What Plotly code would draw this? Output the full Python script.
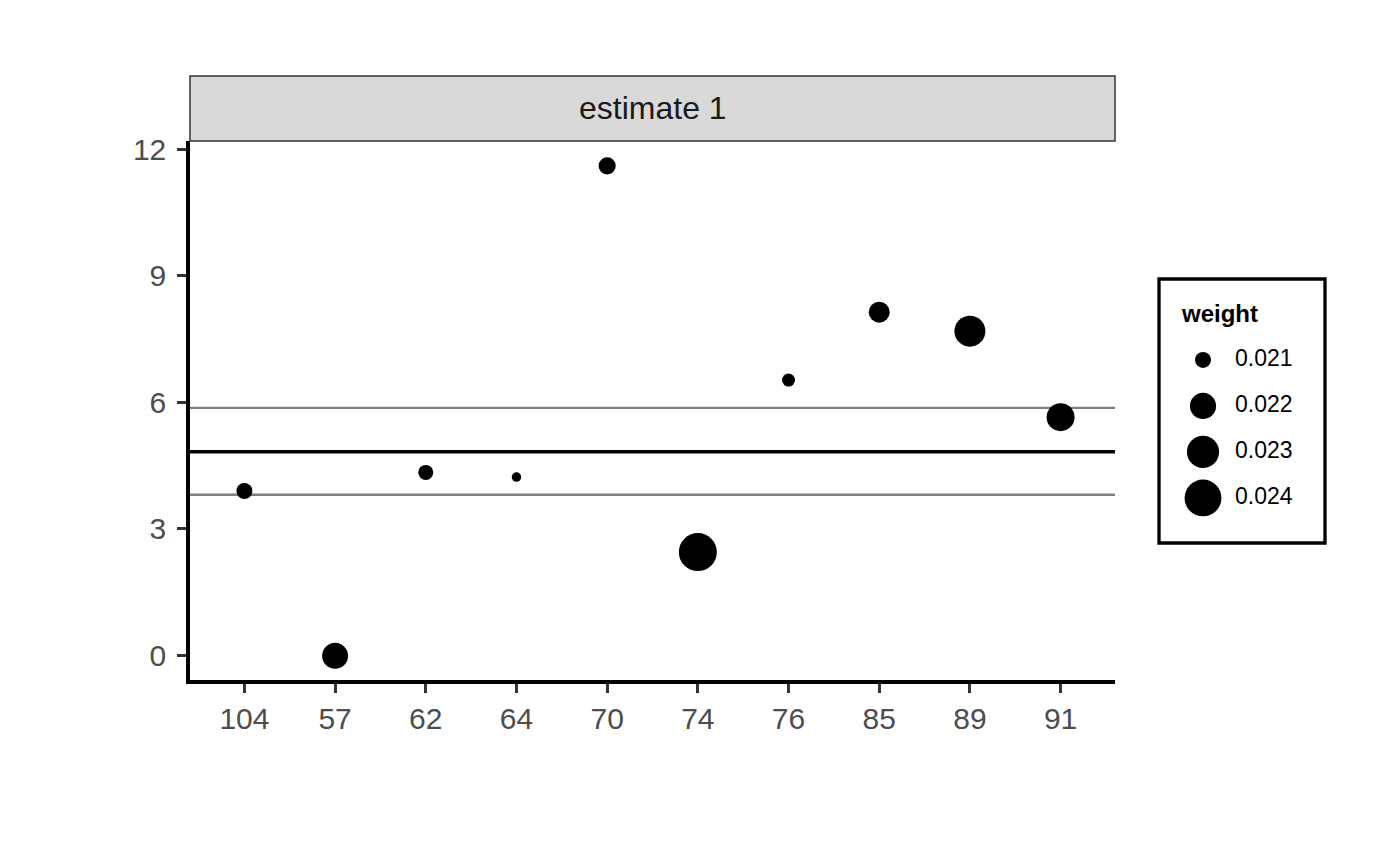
import numpy as np
import plotly.graph_objects as go

# data
studies = ["104", "57", "62", "64", "70", "74", "76", "85", "89", "91"]
estimates = [3.89, -0.02, 4.33, 4.22, 11.60, 2.44, 6.52, 8.13, 7.68, 5.64]
weights = [0.02100, 0.02198, 0.02095, 0.02082, 0.02106, 0.02427, 0.02087, 0.02138, 0.02278, 0.02227]
pooled = 4.82
ci_low = 3.80
ci_high = 5.86
legend_weights = [0.021, 0.022, 0.023, 0.024]
legend_labels = ["0.021", "0.022", "0.023", "0.024"]

W, H = 1400, 865
FONT = "Liberation Sans, Arial, sans-serif"

# area scale like ggplot's scale_size (diameter in px)
wmin, wmax = min(weights), max(weights)
def size_px(w):
    w = np.asarray(w, dtype=float)
    return 9.5 + 28.5 * np.sqrt(np.clip((w - wmin) / (wmax - wmin), 0, None))

# panel / strip / legend boxes in pixels
px0, px1 = 190, 1115
py0, py1 = 141, 680
strip_top = 76
lx0, lx1, ly0, ly1 = 1159, 1325, 279, 543

fig = go.Figure()

fig.add_trace(go.Scatter(
    x=studies, y=estimates, mode="markers",
    marker=dict(size=size_px(weights), color="black", opacity=1, line=dict(width=0)),
    showlegend=False, hoverinfo="x+y",
))

# legend drawn on its own small axes
fig.add_trace(go.Scatter(
    x=[44] * 4, y=legend_labels, mode="markers",
    marker=dict(size=size_px(legend_weights), color="black", opacity=1, line=dict(width=0)),
    xaxis="x2", yaxis="y2", showlegend=False, hoverinfo="skip",
))
fig.add_trace(go.Scatter(
    x=[76] * 4, y=legend_labels, mode="text", text=legend_labels,
    textposition="middle right", textfont=dict(size=23, color="black", family=FONT),
    xaxis="x2", yaxis="y2", showlegend=False, hoverinfo="skip",
))

fig.update_layout(
    width=W, height=H,
    margin=dict(l=0, r=0, t=0, b=0),
    paper_bgcolor="white", plot_bgcolor="white",
    font=dict(family=FONT),
    xaxis=dict(
        domain=[px0 / W, px1 / W], type="category", categoryorder="array",
        categoryarray=studies, range=[-0.6, 9.6],
        showgrid=False, zeroline=False, automargin=False,
        showline=True, linecolor="black", linewidth=3.5,
        ticks="outside", ticklen=9, tickwidth=3, tickcolor="#333333",
        tickfont=dict(size=30, color="#4D4D4D"),
        anchor="y",
    ),
    yaxis=dict(
        domain=[1 - py1 / H, 1 - py0 / H], range=[-0.593, 12.19],
        tickvals=[0, 3, 6, 9, 12],
        showgrid=False, zeroline=False, automargin=False,
        showline=True, linecolor="black", linewidth=3.5,
        ticks="outside", ticklen=9, tickwidth=3, tickcolor="#333333",
        tickfont=dict(size=30, color="#4D4D4D"), ticklabelstandoff=5,
        anchor="x",
    ),
    xaxis2=dict(
        domain=[lx0 / W, lx1 / W], range=[0, lx1 - lx0],
        visible=False, fixedrange=True, anchor="y2",
    ),
    yaxis2=dict(
        domain=[1 - ly1 / H, 1 - ly0 / H], type="category",
        categoryarray=legend_labels, range=[3.98, -1.76],
        visible=False, fixedrange=True, anchor="x2",
    ),
    shapes=[
        # facet strip
        dict(type="rect", xref="paper", yref="paper",
             x0=px0 / W, x1=px1 / W, y0=1 - py0 / H, y1=1 - strip_top / H,
             fillcolor="#D9D9D9", line=dict(color="#333333", width=1.5)),
        # legend frame
        dict(type="rect", xref="paper", yref="paper",
             x0=lx0 / W, x1=lx1 / W, y0=1 - ly1 / H, y1=1 - ly0 / H,
             fillcolor="rgba(0,0,0,0)", line=dict(color="black", width=3.3)),
    ],
    annotations=[
        dict(text="estimate 1", xref="paper", yref="paper",
             x=(px0 + px1) / 2 / W, y=1 - (py0 + strip_top) / 2 / H,
             xanchor="center", yanchor="middle",
             showarrow=False, font=dict(size=32, color="#1A1A1A")),
        dict(text="<b>weight</b>", xref="x2", yref="y2", x=20, y=-1,
             xanchor="left", yanchor="middle",
             showarrow=False, font=dict(size=24, color="black")),
    ],
)

# pooled estimate and interval
for yv, col, wd in [(ci_high, "#7F7F7F", 2.3), (ci_low, "#7F7F7F", 2.3), (pooled, "black", 3.7)]:
    fig.add_hline(y=yv, line=dict(color=col, width=wd), layer="below")

fig.write_html(
    "out.html",
    config={"displayModeBar": False},
    post_script="document.body.style.margin='0';document.body.style.overflow='hidden';",
)
